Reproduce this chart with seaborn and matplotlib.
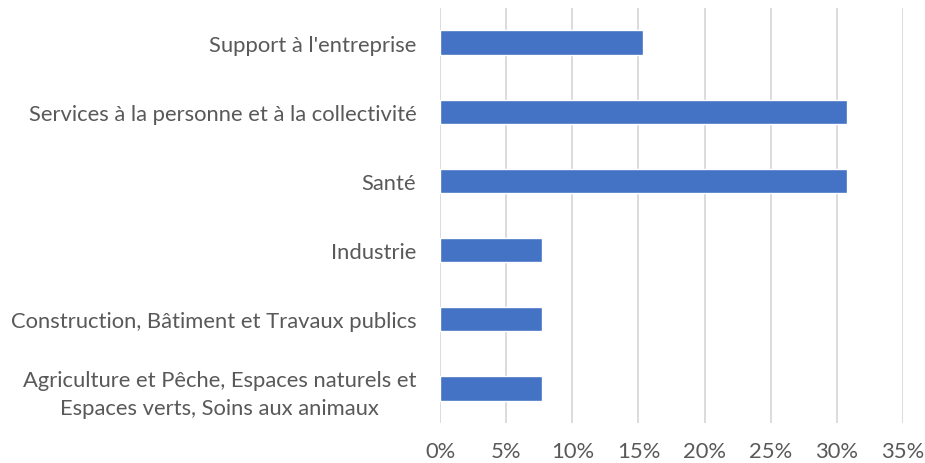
import matplotlib
matplotlib.use("Agg")
import matplotlib.pyplot as plt
import matplotlib.ticker as mticker
import pandas as pd
import seaborn as sns

# data (share of answers)
categories = [
    "Support à l'entreprise",
    "Services à la personne et à la collectivité",
    "Santé",
    "Industrie",
    "Construction, Bâtiment et Travaux publics",
    "Agriculture et Pêche, Espaces naturels et\nEspaces verts, Soins aux animaux",
]
shares = [0.1538, 0.3077, 0.3077, 0.0769, 0.0769, 0.0769]
x_ticks = [0, 0.05, 0.10, 0.15, 0.20, 0.25, 0.30, 0.35]

df = pd.DataFrame({"categorie": categories, "part": shares})

sns.set_theme(style="white")
plt.rcParams["font.family"] = ["Lato", "DejaVu Sans"]

fig = plt.figure(figsize=(9.25, 4.64), dpi=100)
ax = fig.add_axes([0.4757, 0.0862, 0.5005, 0.8944])

sns.barplot(data=df, x="part", y="categorie", color="#4472C4",
            saturation=1, width=0.35, ax=ax)

ax.set_xlim(0, 0.35)
ax.set_ylim(5.5, -0.5)
ax.set_xticks(x_ticks)
ax.xaxis.set_major_formatter(mticker.PercentFormatter(1.0, decimals=0))
ax.grid(axis="x", color="#D9D9D9", linewidth=1.3)
ax.set_axisbelow(True)
for s in ax.spines.values():
    s.set_visible(False)
ax.set_xlabel("")
ax.set_ylabel("")
ax.tick_params(axis="both", length=0, labelsize=15.8, labelcolor="#595959")
ax.tick_params(axis="y", pad=17)
ax.tick_params(axis="x", pad=13)
for lab in ax.get_yticklabels():
    lab.set_multialignment("center")
    lab.set_linespacing(1.45)

fig.savefig("out.png", dpi=100)
